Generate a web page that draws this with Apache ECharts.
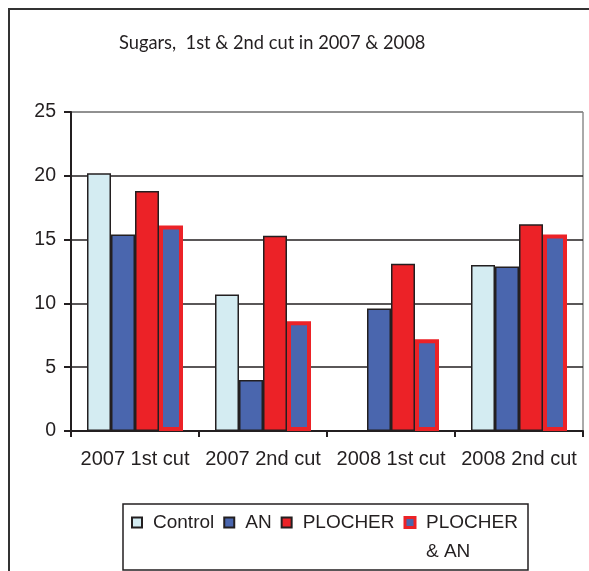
<!DOCTYPE html>
<html>
<head>
<meta charset="utf-8">
<script src="https://cdn.jsdelivr.net/npm/echarts@6/dist/echarts.min.js"></script>
<style>
  html, body { margin: 0; padding: 0; background: #fff; }
  #chart { width: 589px; height: 571px; }
</style>
</head>
<body>
<div id="chart"></div>
<script>
// categories and values
const cuts = ["2007 1st cut", "2007 2nd cut", "2008 1st cut", "2008 2nd cut"];
const control = [20.2, 10.7, null, 13.0];
const an = [15.4, 4.0, 9.6, 12.9];
const plocher = [18.8, 15.3, 13.1, 16.2];
const plocherAn = [16.1, 8.6, 7.2, 15.4];
const yTicks = [0, 5, 10, 15, 20, 25];

const dark = "#231f20";
const chart = echarts.init(document.getElementById("chart"));

const bar = (name, data, fill, border, bw) => ({
  name: name,
  type: "bar",
  data: data,
  barGap: "0%",
  barCategoryGap: "25%",
  itemStyle: { color: fill, borderColor: border, borderWidth: bw },
});

chart.setOption({
  animation: false,
  backgroundColor: "#fff",
  title: {
    text: "Sugars,  1st & 2nd cut in 2007 & 2008",
    left: 114,
    top: 29,
    textStyle: { fontFamily: "Lato", fontWeight: "normal", fontSize: 18.3, color: dark },
  },
  grid: {
    left: 71,
    right: 6,
    top: 112,
    bottom: 140,
    show: true,
    borderColor: "#555",
    borderWidth: 1,
  },
  legend: {
    left: 131,
    top: 479,
    padding: 0,
    itemGap: 9,
    itemWidth: 10,
    itemHeight: 10,
    icon: "rect",
    textStyle: {
      fontFamily: "Liberation Sans",
      fontSize: 19,
      color: dark,
      lineHeight: 29,
      padding: [0, 0, 0, 6],
    },
    // blank first line keeps "PLOCHER" level with its marker
    formatter: (n) => (n === "PLOCHER & AN" ? "\nPLOCHER\n& AN" : n),
    data: [
      "Control",
      "AN",
      "PLOCHER",
      { name: "PLOCHER & AN", itemStyle: { borderWidth: 3 } },
    ],
  },
  xAxis: {
    type: "category",
    data: cuts,
    axisLine: { lineStyle: { color: dark, width: 2 } },
    axisTick: { show: true, interval: 0, length: 6, lineStyle: { color: dark, width: 2 } },
    axisLabel: { interval: 0, fontFamily: "Liberation Sans", fontSize: 20, color: dark, margin: 18 },
  },
  yAxis: {
    type: "value",
    min: yTicks[0],
    max: yTicks[yTicks.length - 1],
    interval: 5,
    axisLine: { show: true, lineStyle: { color: dark, width: 2 } },
    axisTick: { show: true, length: 7, lineStyle: { color: dark, width: 2 } },
    axisLabel: { fontFamily: "Liberation Sans", fontSize: 19.5, color: dark, margin: 15 },
    splitLine: {
      lineStyle: { color: [dark, dark, dark, dark, dark, "#888"], width: 1.5 },
    },
  },
  series: [
    bar("Control", control, "#d4ecf2", dark, 1.5),
    bar("AN", an, "#4a66ae", dark, 1.5),
    bar("PLOCHER", plocher, "#ec2227", dark, 1.5),
    bar("PLOCHER & AN", plocherAn, "#4a66ae", "#ec2227", 4),
  ],
  graphic: [
    {
      type: "rect",
      z: -1,
      shape: { x: 9, y: 9, width: 640, height: 640 },
      style: { fill: null, stroke: "#333", lineWidth: 2 },
    },
    {
      type: "rect",
      z: -1,
      shape: { x: 123, y: 504, width: 405, height: 66 },
      style: { fill: null, stroke: dark, lineWidth: 1.5 },
    },
  ],
});
</script>
</body>
</html>
